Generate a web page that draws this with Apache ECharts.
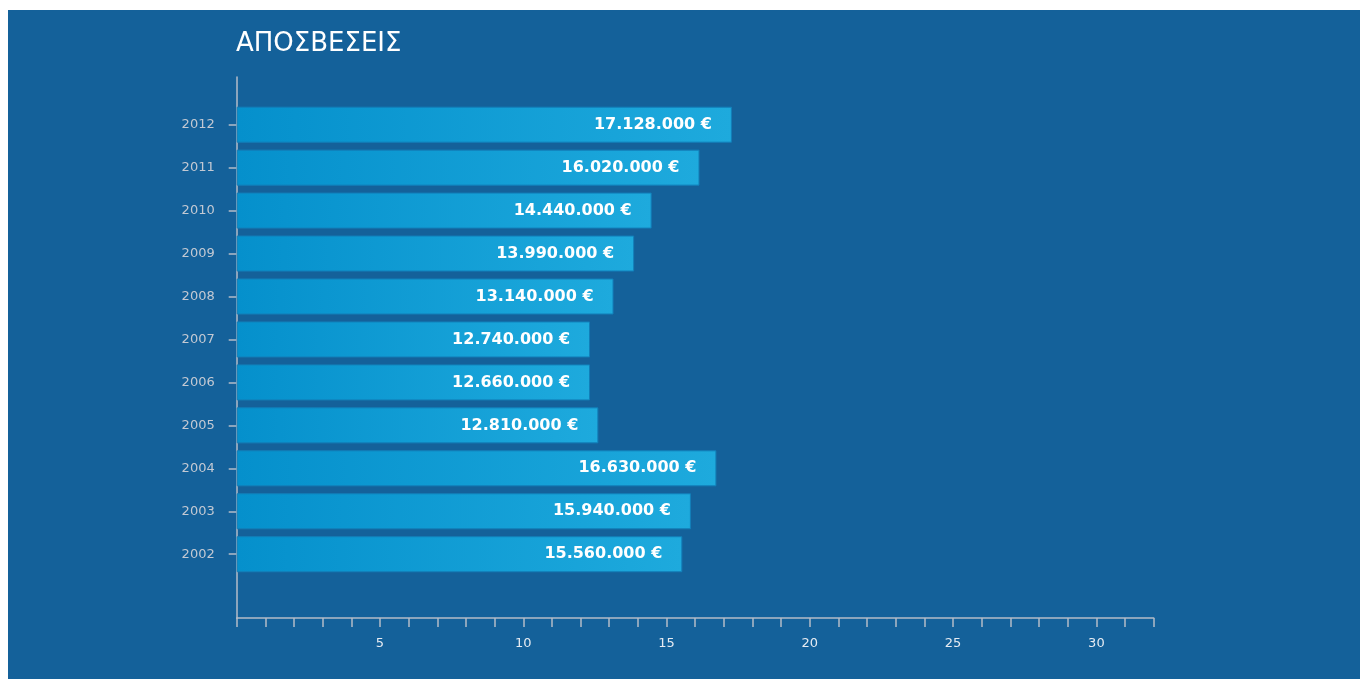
<!DOCTYPE html>
<html>
<head>
<meta charset="utf-8">
<script src="https://cdn.jsdelivr.net/npm/echarts@6/dist/echarts.min.js"></script>
<style>
  html, body { margin: 0; padding: 0; background: #ffffff; width: 1360px; height: 679px; overflow: hidden; }
  #chart { position: absolute; left: 8px; top: 10px; width: 1352px; height: 669px; }
</style>
</head>
<body>
<div id="chart"></div>
<script>
// Data (bottom to top)
const years = ['2002', '2003', '2004', '2005', '2006', '2007', '2008', '2009', '2010', '2011', '2012'];
// amounts shown in the bar labels (€)
const amounts = [15560000, 15940000, 16630000, 12810000, 12660000, 12740000, 13140000, 13990000, 14440000, 16020000, 17128000];
// bar lengths as drawn on the axis
const barLengths = [15.55, 15.85, 16.74, 12.62, 12.33, 12.33, 13.15, 13.87, 14.48, 16.15, 17.28];
const xMin = 0, xMax = 32, xTickStep = 1, xLabelStep = 5;
const titleText = 'ΑΠΟΣΒΕΣΕΙΣ';

function fmtEuro(v) {
  return String(v).replace(/\B(?=(\d{3})+(?!\d))/g, '.') + ' €';
}

const chart = echarts.init(document.getElementById('chart'), null, { renderer: 'canvas' });

const axisColor = '#b4bcc8';
const fontFam = '"DejaVu Sans", Verdana, sans-serif';

const option = {
  backgroundColor: '#14619a',
  animation: false,
  title: {
    text: titleText,
    left: 223,
    top: 16,
    textStyle: { color: '#ffffff', fontSize: 26, fontWeight: 'normal', fontFamily: fontFam }
  },
  grid: [
    { left: 228.7, right: 206.3, top: 93.2, height: 472.5, containLabel: false },
    { left: 228.7, right: 206.3, top: 67, bottom: 61, containLabel: false }
  ],
  xAxis: [
    {
      gridIndex: 0, type: 'value', min: xMin, max: xMax, show: false,
      splitLine: { show: false }
    },
    {
      gridIndex: 1, type: 'value', min: xMin, max: xMax, interval: xTickStep,
      axisLine: { show: true, onZero: false, lineStyle: { color: axisColor, width: 1.5 } },
      axisTick: { show: true, length: 9, lineStyle: { color: axisColor, width: 1.5 } },
      splitLine: { show: false },
      axisLabel: {
        color: '#e6ebf2', fontSize: 13, fontFamily: fontFam, margin: 19,
        formatter: v => (v > 0 && v % xLabelStep === 0) ? String(v) : ''
      }
    }
  ],
  yAxis: [
    {
      gridIndex: 0, type: 'category', data: years,
      axisLine: { show: false },
      axisTick: { show: true, alignWithLabel: true, length: 8, lineStyle: { color: axisColor, width: 1.5 } },
      axisLabel: { color: '#c3c9d3', fontSize: 13, fontFamily: fontFam, margin: 22 },
      splitLine: { show: false }
    },
    {
      gridIndex: 1, type: 'value', min: 0, max: 1,
      axisLine: { show: true, onZero: false, lineStyle: { color: axisColor, width: 1.5 } },
      axisTick: { show: false },
      axisLabel: { show: false },
      splitLine: { show: false }
    }
  ],
  series: [
    {
      type: 'bar',
      xAxisIndex: 0,
      yAxisIndex: 0,
      data: barLengths,
      barWidth: 36,
      itemStyle: {
        color: new echarts.graphic.LinearGradient(0, 0, 1, 0, [
          { offset: 0, color: '#0590cc' },
          { offset: 1, color: '#1eaadd' }
        ]),
        borderColor: '#127fb9',
        borderWidth: 1
      },
      label: {
        show: true,
        position: 'insideRight',
        distance: 20,
        color: '#ffffff',
        fontSize: 16,
        fontWeight: 'bold',
        fontFamily: fontFam,
        formatter: p => fmtEuro(amounts[p.dataIndex])
      }
    }
  ]
};

chart.setOption(option);
</script>
</body>
</html>
